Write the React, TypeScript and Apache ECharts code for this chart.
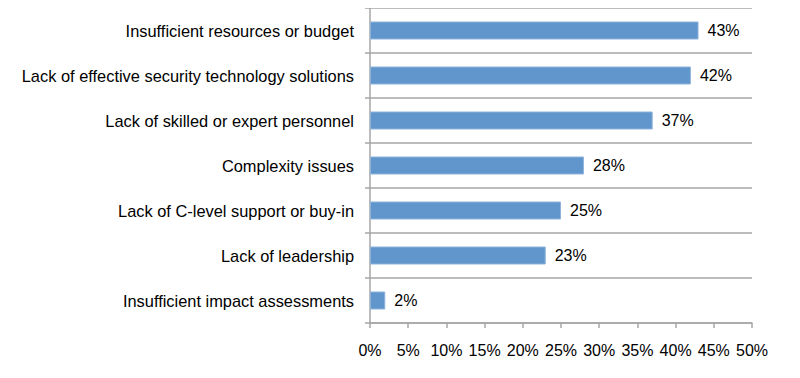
import React, { useEffect, useRef } from "react";
import * as echarts from "echarts";

const categories = [
  "Insufficient resources or budget",
  "Lack of effective security technology solutions",
  "Lack of skilled or expert personnel",
  "Complexity issues",
  "Lack of C-level support or buy-in",
  "Lack of leadership",
  "Insufficient impact assessments",
];
const values = [43, 42, 37, 28, 25, 23, 2];

export default function App() {
  const ref = useRef<HTMLDivElement>(null);
  useEffect(() => {
    if (!ref.current) return;
    const chart = echarts.init(ref.current, undefined, { renderer: "svg" });
    const font = "'Liberation Sans', Arial, sans-serif";
    chart.setOption({
      animation: false,
      grid: { left: 370, right: 48, top: 8, bottom: 55, containLabel: false },
      xAxis: {
        type: "value",
        min: 0,
        max: 50,
        interval: 5,
        axisLine: { show: true, lineStyle: { color: "#A6A6A6", width: 1.5 } },
        axisTick: { show: true, length: 5, lineStyle: { color: "#A6A6A6", width: 1.5 } },
        splitLine: { show: false },
        axisLabel: {
          formatter: "{value}%",
          color: "#000",
          fontSize: 16,
          fontFamily: font,
          margin: 19,
        },
      },
      yAxis: {
        type: "category",
        data: categories,
        inverse: true,
        axisLine: { show: true, lineStyle: { color: "#A6A6A6", width: 1.5 } },
        axisTick: { show: true, length: 5, lineStyle: { color: "#A6A6A6", width: 1.5 } },
        splitLine: { show: true, lineStyle: { color: "#A6A6A6", width: 1.5 } },
        axisLabel: {
          color: "#000",
          fontSize: 16.4,
          fontFamily: font,
          margin: 16,
          padding: [3, 0, 0, 0],
        },
      },
      series: [
        {
          type: "bar",
          data: values,
          barWidth: 18,
          itemStyle: { color: "#6096CB", borderColor: "#8DB3DB", borderWidth: 1 },
          label: {
            show: true,
            position: "right",
            distance: 9,
            formatter: "{c}%",
            color: "#000",
            fontSize: 16,
            fontFamily: font,
          },
        },
      ],
    });
    return () => chart.dispose();
  }, []);
  return <div ref={ref} style={{ width: 800, height: 378, margin: -8 }} />;
}
